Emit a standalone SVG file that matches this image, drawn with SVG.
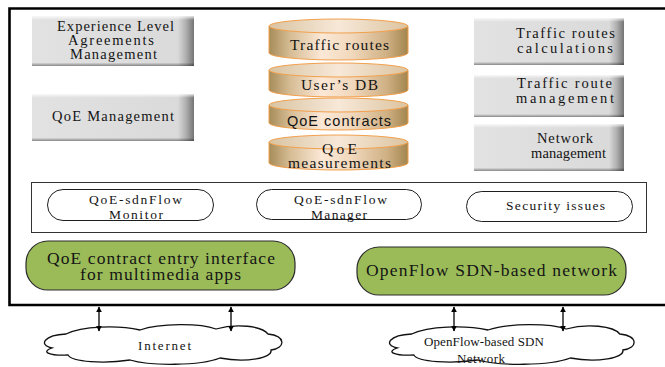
<svg xmlns="http://www.w3.org/2000/svg" width="665" height="367" viewBox="0 0 665 367">
  <style>
    text { font-family: "Liberation Serif", "Times New Roman", serif; fill: #141414; }
    .box { font-size: 14.5px; }
    .db { font-size: 15.5px; }
    .sans { font-family: "Liberation Sans", Arial, sans-serif; font-size: 14.5px; }
    .pill { fill: #ffffff; stroke: #1e1e1e; stroke-width: 1; }
    .pilltxt { font-size: 13.5px; }
    .green { fill: #9bbb59; stroke: #2a2a2a; stroke-width: 1.2; }
    .gtxt { font-size: 17.5px; }
    .cloud { fill: #ffffff; stroke: #111; stroke-width: 1.3; }
    .ctxt { font-size: 13px; }
    .cylbody { fill: url(#cylSide); stroke: #f2a04c; stroke-width: 1; }
    .cyltop { fill: url(#cylTop); stroke: #f2a04c; stroke-width: 1; }
    .arrow { stroke: #000; stroke-width: 1.3; fill: none; marker-start: url(#head); marker-end: url(#head); }
  </style>
  <defs>
    <linearGradient id="btnFace" x1="0" y1="0" x2="1" y2="0">
      <stop offset="0" stop-color="#e2e2e2"/>
      <stop offset="0.9" stop-color="#dadada"/>
      <stop offset="0.95" stop-color="#b0b0b0"/>
      <stop offset="1" stop-color="#747474"/>
    </linearGradient>
    <linearGradient id="btnShade" x1="0" y1="0" x2="0" y2="1">
      <stop offset="0" stop-color="#ffffff" stop-opacity="0.8"/>
      <stop offset="0.08" stop-color="#ffffff" stop-opacity="0"/>
      <stop offset="0.93" stop-color="#000000" stop-opacity="0"/>
      <stop offset="1" stop-color="#000000" stop-opacity="0.4"/>
    </linearGradient>
    <linearGradient id="cylSide" x1="0" y1="0" x2="1" y2="0">
      <stop offset="0" stop-color="#a68c58"/>
      <stop offset="0.15" stop-color="#d6bc94"/>
      <stop offset="0.38" stop-color="#fbe8d6"/>
      <stop offset="0.6" stop-color="#f1d8bc"/>
      <stop offset="0.85" stop-color="#cfb084"/>
      <stop offset="1" stop-color="#a2854e"/>
    </linearGradient>
    <linearGradient id="cylTop" x1="0" y1="0" x2="1" y2="0">
      <stop offset="0" stop-color="#d9c4a2"/>
      <stop offset="0.5" stop-color="#f7e8d8"/>
      <stop offset="1" stop-color="#dcc4a0"/>
    </linearGradient>
    <marker id="head" viewBox="0 0 10 10" refX="9" refY="5" markerWidth="6" markerHeight="6" orient="auto-start-reverse" markerUnits="userSpaceOnUse">
      <path d="M0,0 L10,5 L0,10 z" fill="#000"/>
    </marker>
  </defs>

  <rect x="0" y="0" width="665" height="367" fill="#ffffff"/>

  <!-- outer frame (open to the right) -->
  <path d="M665,8.5 H9.5 V305 H665" fill="none" stroke="#000" stroke-width="2.6"/>

  <!-- left management buttons -->
  <g id="ela-management">
    <rect x="32" y="16" width="162" height="50" fill="url(#btnFace)"/>
    <rect x="32" y="16" width="162" height="50" fill="url(#btnShade)"/>
    <text class="box" x="57" y="31" textLength="117" lengthAdjust="spacing">Experience Level</text>
    <text class="box" x="68" y="45" textLength="86" lengthAdjust="spacing">Agreements</text>
    <text class="box" x="70" y="59" textLength="87" lengthAdjust="spacing">Management</text>
  </g>
  <g id="qoe-management">
    <rect x="32" y="94" width="162" height="47" fill="url(#btnFace)"/>
    <rect x="32" y="94" width="162" height="47" fill="url(#btnShade)"/>
    <text class="box" x="52" y="121" textLength="122" lengthAdjust="spacing">QoE Management</text>
  </g>

  <!-- right management buttons -->
  <g id="routes-calculations">
    <rect x="474" y="18" width="150" height="47" fill="url(#btnFace)"/>
    <rect x="474" y="18" width="150" height="47" fill="url(#btnShade)"/>
    <text class="box" x="516" y="38" textLength="99" lengthAdjust="spacing">Traffic routes</text>
    <text class="box" x="517" y="53" textLength="96" lengthAdjust="spacing">calculations</text>
  </g>
  <g id="route-management">
    <rect x="474" y="75" width="150" height="42" fill="url(#btnFace)"/>
    <rect x="474" y="75" width="150" height="42" fill="url(#btnShade)"/>
    <text class="box" x="517" y="88" textLength="95" lengthAdjust="spacing">Traffic route</text>
    <text class="box" x="516" y="103" textLength="98" lengthAdjust="spacing">management</text>
  </g>
  <g id="network-management">
    <rect x="474" y="124" width="150" height="47" fill="url(#btnFace)"/>
    <rect x="474" y="124" width="150" height="47" fill="url(#btnShade)"/>
    <text class="box" x="537" y="143" textLength="56" lengthAdjust="spacing">Network</text>
    <text class="box" x="531" y="158" textLength="75" lengthAdjust="spacing">management</text>
  </g>

  <!-- databases -->
  <g id="db-traffic-routes">
    <path class="cylbody" d="M269,26 V53 A69.5,7 0 0 0 408,53 V26"/>
    <ellipse class="cyltop" cx="338.5" cy="26" rx="69.5" ry="7"/>
    <text class="db" x="290" y="50" textLength="99" lengthAdjust="spacing">Traffic routes</text>
  </g>
  <g id="db-users">
    <path class="cylbody" d="M269,70 V90 A69.5,7 0 0 0 408,90 V70"/>
    <ellipse class="cyltop" cx="338.5" cy="70" rx="69.5" ry="7"/>
    <text class="db" x="301" y="90" textLength="77" lengthAdjust="spacing">User’s DB</text>
  </g>
  <g id="db-qoe-contracts">
    <path class="cylbody" d="M269,105 V123 A69.5,7 0 0 0 408,123 V105"/>
    <ellipse class="cyltop" cx="338.5" cy="105" rx="69.5" ry="7"/>
    <text class="sans" x="287" y="126" textLength="104" lengthAdjust="spacing">QoE contracts</text>
  </g>
  <g id="db-qoe-measurements">
    <path class="cylbody" d="M269,142 V163 A69.5,7 0 0 0 408,163 V142"/>
    <ellipse class="cyltop" cx="338.5" cy="142" rx="69.5" ry="7"/>
    <text class="db" x="322" y="154" textLength="35" lengthAdjust="spacing">QoE</text>
    <text class="db" x="288" y="168" textLength="103" lengthAdjust="spacing">measurements</text>
  </g>

  <!-- QoE-sdnFlow modules -->
  <g id="sdnflow-modules">
    <rect x="31.5" y="182.5" width="615" height="50" fill="#ffffff" stroke="#333" stroke-width="1"/>
  </g>
  <g id="sdnflow-monitor">
    <rect class="pill" x="47.5" y="189.5" width="166" height="31" rx="15.5"/>
    <text class="pilltxt" x="89" y="204" textLength="93" lengthAdjust="spacing">QoE-sdnFlow</text>
    <text class="pilltxt" x="109" y="219" textLength="54" lengthAdjust="spacing">Monitor</text>
  </g>
  <g id="sdnflow-manager">
    <text class="pilltxt" x="294" y="204" textLength="93" lengthAdjust="spacing">QoE-sdnFlow</text>
    <text class="pilltxt" x="311" y="219" textLength="56" lengthAdjust="spacing">Manager</text>
    <rect x="256.5" y="189.5" width="165" height="30" rx="15" fill="none" stroke="#1e1e1e" stroke-width="1"/>
  </g>
  <g id="security-issues">
    <rect class="pill" x="466.5" y="191.5" width="166" height="30" rx="15"/>
    <text class="pilltxt" x="506" y="210" textLength="99" lengthAdjust="spacing">Security issues</text>
  </g>

  <!-- interfaces -->
  <g id="contract-entry-interface">
    <rect class="green" x="26" y="241" width="269" height="49" rx="22"/>
    <text class="gtxt" x="47" y="264" textLength="228" lengthAdjust="spacing">QoE contract entry interface</text>
    <text class="gtxt" x="80" y="280" textLength="161" lengthAdjust="spacing">for multimedia apps</text>
  </g>
  <g id="openflow-network">
    <rect class="green" x="357" y="247" width="269" height="48" rx="22"/>
    <text class="gtxt" x="366" y="276" textLength="251" lengthAdjust="spacing">OpenFlow SDN-based network</text>
  </g>

  <!-- external clouds -->
  <g id="internet">
    <path class="cloud" d="M52,348 C38,345 44,335 66,334 C82,326 118,325 140,330 C160,323 200,323 216,329 C236,323 262,326 268,334 C286,336 286,348 271,350 C273,358 246,363 220,358 C200,366 150,366 130,360 C104,364 72,362 68,355 C50,356 40,352 52,348 Z"/>
    <text class="ctxt" x="138" y="350" textLength="53" lengthAdjust="spacing">Internet</text>
  </g>
  <g id="openflow-cloud">
    <path class="cloud" transform="translate(387 0) scale(1.03 1) translate(-42 0)" d="M52,348 C38,345 44,335 66,334 C82,326 118,325 140,330 C160,323 200,323 216,329 C236,323 262,326 268,334 C286,336 286,348 271,350 C273,358 246,363 220,358 C200,366 150,366 130,360 C104,364 72,362 68,355 C50,356 40,352 52,348 Z"/>
    <text class="ctxt" x="424" y="346" textLength="120" lengthAdjust="spacing">OpenFlow-based SDN</text>
    <text class="ctxt" x="457" y="363" textLength="48" lengthAdjust="spacing">Network</text>
  </g>

  <!-- connectors -->
  <g id="connectors">
    <line class="arrow" x1="99" y1="307" x2="99" y2="331"/>
    <line class="arrow" x1="231" y1="307" x2="231" y2="331"/>
    <line class="arrow" x1="454" y1="307" x2="454" y2="331"/>
    <line class="arrow" x1="563" y1="307" x2="563" y2="331"/>
  </g>
</svg>
